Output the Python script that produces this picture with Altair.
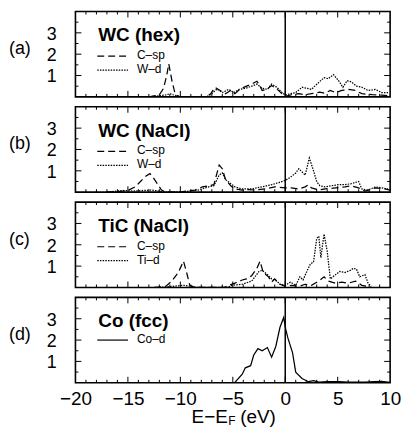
import altair as alt
import pandas as pd

# ---------------- data ----------------
x_tick_values = [-20, -15, -10, -5, 0, 5, 10]
x_major = [-15, -10, -5, 0, 5]
x_minor = [v for v in range(-19, 10) if v % 5 != 0]
y_major = [1, 2, 3]
y_minor = [0.5, 1.5, 2.5, 3.5]
y_tick_labels = ["1", "2", "3"]

panel_tags = ["(a)", "(b)", "(c)", "(d)"]
panel_titles = ["WC (hex)", "WC (NaCl)", "TiC (NaCl)", "Co (fcc)"]

# (a) WC (hex)
a_csp_x = [-13.0, -12.5, -12.0, -11.6, -11.3, -11.1, -10.8, -10.5, -10.2, -9.8, -7.6, -7.1, -6.7, -6.2, -5.7,
           -5.2, -4.8, -4.3, -3.8, -3.2, -2.7, -2.5, -2.2, -1.7, -1.3, -0.8, -0.3, 0.0, 0.6, 1.3, 1.9, 2.5,
           3.3, 3.8, 4.3, 4.8, 5.4, 6.0, 6.7, 7.3, 8.3, 9.2, 10.0]
a_csp_y = [0.0, 0.05, 0.1, 0.4, 1.0, 1.55, 0.75, 0.15, 0.02, 0.0, 0.0, 0.15, 0.45, 0.3, 0.15,
           0.3, 0.15, 0.37, 0.48, 0.6, 0.73, 0.6, 0.3, 0.37, 0.53, 0.37, 0.14, 0.02, 0.1, 0.15, 0.1, 0.15,
           0.22, 0.17, 0.3, 0.2, 0.3, 0.35, 0.3, 0.15, 0.1, 0.08, 0.05]
a_wd_x = [-13.0, -12.0, -11.3, -11.0, -10.7, -10.3, -9.8, -7.5, -7.0, -6.5, -6.0, -5.4, -4.9, -4.4, -3.8,
          -3.2, -2.7, -2.2, -1.7, -1.3, -0.8, -0.3, 0.0, 0.5, 1.0, 1.6, 2.1, 2.5, 3.2, 3.7, 4.1, 4.6, 5.1,
          5.5, 5.9, 6.3, 6.8, 7.3, 7.9, 8.6, 9.2, 9.8]
a_wd_y = [0.0, 0.05, 0.1, 0.15, 0.1, 0.05, 0.0, 0.0, 0.15, 0.37, 0.2, 0.35, 0.2, 0.35, 0.4,
          0.5, 0.6, 0.4, 0.35, 0.6, 0.45, 0.2, 0.08, 0.15, 0.2, 0.45, 0.4, 0.35, 0.68, 0.9, 0.85, 1.04, 0.75,
          0.45, 0.76, 0.7, 0.5, 0.45, 0.3, 0.35, 0.2, 0.2]

# (b) WC (NaCl)
b_csp_x = [-17.0, -15.5, -15.0, -14.3, -13.8, -13.3, -12.9, -12.6, -12.2, -11.8, -11.4, -10.0, -9.5, -8.6,
           -7.9, -7.3, -6.8, -6.3, -6.0, -5.7, -5.2, -4.8, -4.1, -3.5, -2.9, -1.9, -1.0, 0.0, 0.6, 1.3,
           1.9, 2.2, 2.5, 3.2, 3.8, 4.8, 5.7, 6.3, 7.0, 7.6, 8.6, 9.5, 10.0]
b_csp_y = [0.0, 0.05, 0.08, 0.25, 0.5, 0.75, 0.87, 0.7, 0.4, 0.1, 0.0, 0.0, 0.05, 0.1,
           0.25, 0.3, 0.35, 1.27, 1.1, 0.6, 0.3, 0.15, 0.1, 0.12, 0.1, 0.15, 0.25, 0.2, 0.2, 0.15,
           0.25, 0.35, 0.2, 0.1, 0.15, 0.2, 0.25, 0.3, 0.2, 0.05, 0.2, 0.15, 0.1]
b_wd_x = [-17.0, -15.5, -14.5, -13.5, -12.8, -12.0, -11.4, -10.0, -8.3, -7.3, -6.8, -6.3, -6.0, -5.7,
          -5.2, -4.8, -4.1, -3.2, -2.2, -1.3, -0.6, 0.0, 0.5, 1.0, 1.3, 1.7, 1.9, 2.3, 2.7, 3.0, 3.3,
          3.8, 4.4, 5.1, 5.7, 6.3, 7.0, 7.3, 7.9, 8.6, 9.2, 9.8]
b_wd_y = [0.0, 0.08, 0.05, 0.08, 0.1, 0.05, 0.0, 0.0, 0.1, 0.25, 0.3, 0.8, 0.9, 0.6,
          0.4, 0.25, 0.15, 0.15, 0.25, 0.35, 0.45, 0.55, 0.7, 0.9, 1.1, 0.9, 0.8, 1.6, 1.0, 0.5, 0.3,
          0.25, 0.3, 0.35, 0.35, 0.4, 0.5, 0.15, 0.1, 0.25, 0.2, 0.15]

# (c) TiC (NaCl)
c_csp_x = [-12.5, -11.4, -10.8, -10.2, -9.7, -9.4, -9.1, -8.6, -5.8, -5.4, -4.8, -4.1, -3.7, -3.2, -2.7,
           -2.4, -2.1, -1.6, -1.3, -1.0, -0.5, 0.0, 0.6, 1.3, 1.9, 2.5, 3.2, 3.7, 4.1, 4.8, 5.4, 6.0,
           6.7, 7.3, 7.9, 8.2]
c_csp_y = [0.0, 0.05, 0.3, 0.7, 1.23, 0.7, 0.1, 0.0, 0.0, 0.1, 0.2, 0.35, 0.4, 0.55, 0.9,
           1.23, 0.7, 0.5, 0.25, 0.4, 0.15, 0.05, 0.1, 0.05, 0.15, 0.1, 0.3, 0.5, 0.3, 0.2, 0.25, 0.2,
           0.3, 0.1, 0.05, 0.0]
c_tid_x = [-12.0, -10.8, -9.7, -8.9, -8.4, -5.5, -5.1, -4.1, -3.2, -2.5, -2.2, -1.7, -1.3, -0.8, -0.5,
           0.0, 0.5, 1.0, 1.4, 1.7, 2.1, 2.4, 2.7, 3.0, 3.2, 3.4, 3.7, 4.0, 4.3, 4.8, 5.2, 5.7, 6.2,
           6.5, 6.8, 7.1, 7.6, 7.9, 8.2]
c_tid_y = [0.0, 0.05, 0.1, 0.05, 0.0, 0.0, 0.1, 0.15, 0.3, 0.75, 0.8, 0.6, 0.4, 0.3, 0.15,
           0.1, 0.25, 0.1, 0.5, 0.35, 0.8, 1.1, 1.2, 2.3, 2.4, 1.4, 2.5, 1.7, 0.4, 0.6, 0.75, 0.7, 0.8,
           0.9, 0.85, 0.5, 0.6, 0.2, 0.05]

# (d) Co (fcc)
d_cod_x = [-6.6, -5.5, -4.8, -4.1, -3.8, -3.3, -3.0, -2.6, -2.2, -1.7, -1.3, -0.9, -0.5, -0.15, 0.05,
           0.25, 0.7, 1.0, 1.6, 2.2, 2.7, 3.2, 4.0, 5.1, 6.0, 7.6, 8.5, 9.2, 10.0]
d_cod_y = [0.0, 0.0, 0.02, 0.4, 0.7, 0.8, 1.3, 1.6, 1.5, 1.65, 1.2, 1.7, 2.6, 3.05, 2.5,
           2.1, 1.4, 0.5, 0.2, 0.05, 0.1, 0.03, 0.05, 0.05, 0.03, 0.03, 0.05, 0.06, 0.02]

# ---------------- style ----------------
W, H = 317, 86
FONT = "Liberation Sans"
DASHED = [7, 4]
DOTTED = [1.5, 1.2]
SOLID = None

xs = alt.Scale(domain=[-20, 10], nice=False, zero=False)
ys = alt.Scale(domain=[0, 4], nice=False, zero=False)


def make_panel(tag, title, series, legend_y, bottom=False):
    if bottom:
        xaxis = alt.Axis(values=x_tick_values, labelFontSize=19, labelFont=FONT, labelColor="black",
                         ticks=False, tickSize=0, domain=False, grid=False, labelPadding=7,
                         title=None, labelFlush=False, minExtent=0)
    else:
        xaxis = None

    def X(field):
        return alt.X(field, scale=xs, axis=xaxis, title=None)

    def Y(field):
        return alt.Y(field, scale=ys, axis=None, title=None)

    layers = []
    for name, xv, yv, dash in series:
        df = pd.DataFrame({"x": xv, "y": yv})
        kw = dict(color="black", strokeWidth=1.25, clip=True)
        if dash is not None:
            kw["strokeDash"] = dash
        layers.append(alt.Chart(df).mark_line(**kw).encode(x=X("x:Q"), y=Y("y:Q")))

    zero = alt.Chart(pd.DataFrame({"v": [0]})).mark_rule(color="black", strokeWidth=1.5).encode(x=X("v:Q"))
    layers.append(zero)

    # inward ticks
    for vals, ln in ((x_major, 6), (x_minor, 3)):
        d = pd.DataFrame({"v": vals})
        layers.append(alt.Chart(d).mark_rule(color="black", strokeWidth=1).encode(
            x=X("v:Q"), y=alt.value(H), y2=alt.value(H - ln)))
        layers.append(alt.Chart(d).mark_rule(color="black", strokeWidth=1).encode(
            x=X("v:Q"), y=alt.value(0), y2=alt.value(ln)))
    for vals, ln in ((y_major, 6), (y_minor, 3)):
        d = pd.DataFrame({"v": vals})
        layers.append(alt.Chart(d).mark_rule(color="black", strokeWidth=1).encode(
            y=Y("v:Q"), x=alt.value(0), x2=alt.value(ln)))
        layers.append(alt.Chart(d).mark_rule(color="black", strokeWidth=1).encode(
            y=Y("v:Q"), x=alt.value(W), x2=alt.value(W - ln)))

    # y tick labels
    layers.append(alt.Chart(pd.DataFrame({"v": y_major, "t": y_tick_labels})).mark_text(
        align="right", baseline="middle", fontSize=18, font=FONT, color="black", dy=2).encode(
        y=Y("v:Q"), x=alt.value(-19), text="t:N"))

    one = pd.DataFrame({"k": [0]})
    # panel tag
    layers.append(alt.Chart(one).mark_text(
        align="left", baseline="middle", fontSize=18, font=FONT, color="black").encode(
        x=alt.value(-67), y=alt.value(38), text=alt.value(tag)))
    # panel title
    layers.append(alt.Chart(one).mark_text(
        align="left", baseline="alphabetic", fontSize=19, font=FONT, fontWeight="bold", color="black").encode(
        x=alt.value(23), y=alt.value(30), text=alt.value(title)))
    # legend
    for (name, xv, yv, dash), ly in zip(series, legend_y):
        rkw = dict(color="black", strokeWidth=1.2)
        if dash is not None:
            rkw["strokeDash"] = dash
        layers.append(alt.Chart(one).mark_rule(**rkw).encode(
            x=alt.value(22), x2=alt.value(53), y=alt.value(ly)))
        layers.append(alt.Chart(one).mark_text(
            align="left", baseline="middle", fontSize=12, font=FONT, color="black").encode(
            x=alt.value(62), y=alt.value(ly - 1), text=alt.value(name)))

    if bottom:
        # x-axis title  E−E_F (eV) with subscript
        x0 = 117
        base = 127
        layers.append(alt.Chart(one).mark_text(
            align="left", baseline="alphabetic", fontSize=19, font=FONT, color="black").encode(
            x=alt.value(x0), y=alt.value(base), text=alt.value("E−E")))
        layers.append(alt.Chart(one).mark_text(
            align="left", baseline="alphabetic", fontSize=12, font=FONT, color="black").encode(
            x=alt.value(x0 + 37), y=alt.value(base + 2), text=alt.value("F")))
        layers.append(alt.Chart(one).mark_text(
            align="left", baseline="alphabetic", fontSize=19, font=FONT, color="black").encode(
            x=alt.value(x0 + 49), y=alt.value(base), text=alt.value("(eV)")))

    return alt.layer(*layers).properties(width=W, height=H)


p_a = make_panel(panel_tags[0], panel_titles[0],
                 [("C–sp", a_csp_x, a_csp_y, DASHED), ("W–d", a_wd_x, a_wd_y, DOTTED)], [45, 59])
p_b = make_panel(panel_tags[1], panel_titles[1],
                 [("C–sp", b_csp_x, b_csp_y, DASHED), ("W–d", b_wd_x, b_wd_y, DOTTED)], [45, 59])
p_c = make_panel(panel_tags[2], panel_titles[2],
                 [("C–sp", c_csp_x, c_csp_y, DASHED), ("Ti–d", c_tid_x, c_tid_y, DOTTED)], [45, 59])
p_d = make_panel(panel_tags[3], panel_titles[3],
                 [("Co–d", d_cod_x, d_cod_y, SOLID)], [43], bottom=True)

chart = alt.vconcat(p_a, p_b, p_c, p_d, spacing=10, bounds="flush").configure_view(
    stroke="black", strokeWidth=1.6
).properties(padding={"left": 8, "top": 8, "right": 5, "bottom": 0}, background="white")

chart.save("out.html", embed_options={"renderer": "svg", "actions": False})
